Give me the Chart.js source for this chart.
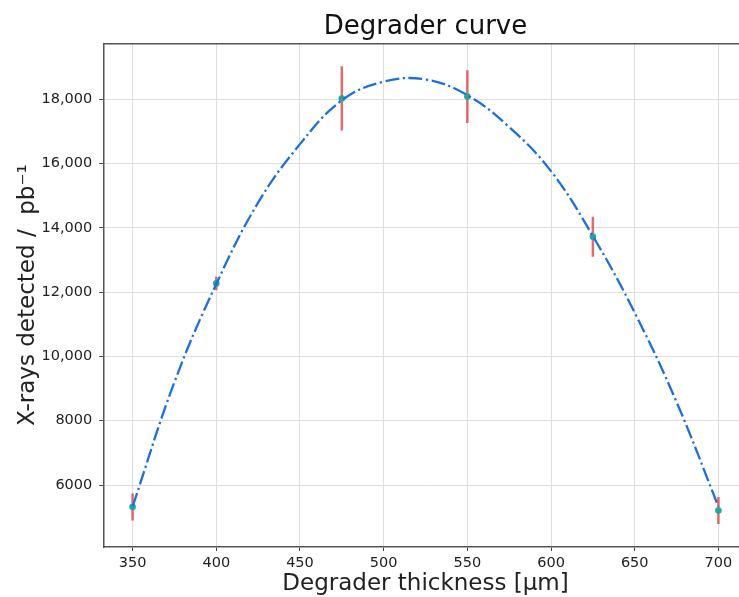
<!DOCTYPE html>
<html>
<head>
<meta charset="utf-8">
<title>Degrader curve</title>
<script src="https://cdn.jsdelivr.net/npm/chart.js@4.4.1/dist/chart.umd.min.js"></script>
<style>
  html, body { margin: 0; padding: 0; background: #fff; overflow: hidden; }
  #wrap { width: 760px; height: 597px; }
</style>
</head>
<body>
<div id="wrap"><canvas id="degraderChart" width="760" height="597"></canvas></div>
<script>
// measured points (degrader thickness in µm)
const thickness = [350, 400, 475, 550, 625, 700];
const xrays = [5320, 12270, 18020, 18080, 13720, 5210];
const xrayErr = [420, 210, 1000, 820, 620, 420];

// fitted curve, every 25 µm
const fitThickness = [350, 375, 400, 425, 450, 475, 500, 525, 550, 575, 600, 625, 650, 675, 700];
const fitXrays = [5330, 9200, 12250, 14780, 16600, 17960, 18540, 18610, 18120, 17130, 15760, 13740, 11360, 8580, 5330];

// axis ticks
const xTicks = [350, 400, 450, 500, 550, 600, 650, 700];
const yTicks = [6000, 8000, 10000, 12000, 14000, 16000, 18000];

Chart.defaults.font.family = "'DejaVu Sans', sans-serif";
Chart.defaults.color = '#222';

const gridColor = '#dedede';
const spineColor = '#555';

// one little two-point line per error bar
const errorBars = thickness.map((x, i) => ({
  label: 'err' + x,
  data: [{ x: x, y: xrays[i] - xrayErr[i] }, { x: x, y: xrays[i] + xrayErr[i] }],
  showLine: true,
  borderColor: 'rgba(222, 80, 80, 0.85)',
  borderWidth: 2.5,
  pointRadius: 0,
  order: 2
}));

const ctx = document.getElementById('degraderChart').getContext('2d');
new Chart(ctx, {
  type: 'scatter',
  data: {
    datasets: [
      {
        label: 'fit',
        data: fitThickness.map((x, i) => ({ x: x, y: fitXrays[i] })),
        showLine: true,
        borderColor: '#1c6fe3',
        borderWidth: 2.3,
        borderDash: [14, 3.5, 2.2, 3.5],
        tension: 0.4,
        pointRadius: 0,
        order: 0
      },
      {
        label: 'data',
        data: thickness.map((x, i) => ({ x: x, y: xrays[i] })),
        pointRadius: 3.3,
        pointBackgroundColor: '#20a89f',
        pointBorderWidth: 0,
        order: 1
      },
      ...errorBars
    ]
  },
  options: {
    responsive: false,
    animation: false,
    layout: { padding: { left: 10, right: 12.3, top: 0, bottom: 0 } },
    plugins: {
      legend: { display: false },
      tooltip: { enabled: false }
    },
    scales: {
      x: {
        type: 'linear',
        position: 'bottom',
        min: 332.5,
        max: 717.5,
        afterBuildTicks: s => { s.ticks = xTicks.map(v => ({ value: v })); },
        afterFit: s => { s.height = 50; },
        grid: { color: gridColor, lineWidth: 1, drawTicks: true, tickLength: 4, tickColor: '#444', tickWidth: 1 },
        border: { display: true, color: spineColor, width: 1.5 },
        ticks: { padding: 4, maxRotation: 0, font: { size: 14.5 } },
        title: {
          display: true,
          text: 'Degrader thickness [μm]',
          font: { size: 23, lineHeight: 1 },
          padding: { top: 0, bottom: 1 }
        }
      },
      x2: {
        type: 'linear',
        position: 'top',
        display: true,
        min: 332.5,
        max: 717.5,
        afterFit: s => { s.height = 43.3; },
        grid: { display: false, drawTicks: false },
        border: { display: true, color: spineColor, width: 1.5 },
        ticks: { display: false },
        title: {
          display: true,
          text: 'Degrader curve',
          color: '#111',
          font: { size: 26 },
          padding: { top: 12, bottom: 0 }
        }
      },
      y: {
        type: 'linear',
        min: 4073,
        max: 19735,
        afterBuildTicks: s => { s.ticks = yTicks.map(v => ({ value: v })); },
        afterFit: s => { s.width = 93.3; },
        grid: { color: gridColor, lineWidth: 1, drawTicks: true, tickLength: 4, tickColor: '#444', tickWidth: 1 },
        border: { display: true, color: spineColor, width: 1.5 },
        ticks: {
          padding: 7,
          font: { size: 14.5 },
          callback: v => v >= 10000 ? v.toLocaleString('en-US') : String(v)
        },
        title: {
          display: true,
          text: 'X-rays detected /  pb⁻¹',
          font: { size: 23 },
          padding: { top: 4, bottom: 4 }
        }
      }
    }
  }
});
</script>
</body>
</html>
